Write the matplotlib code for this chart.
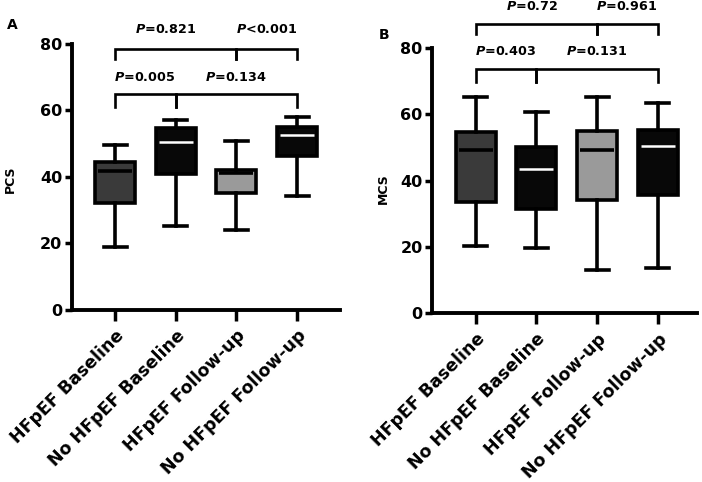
import numpy as np
import matplotlib
matplotlib.use("Agg")
import matplotlib.pyplot as plt

plt.rcParams['font.family'] = ['DejaVu Sans']
plt.rcParams['font.weight'] = 'bold'
plt.rcParams['mathtext.fontset'] = 'custom'
plt.rcParams['mathtext.it'] = 'DejaVu Sans:italic:bold'
plt.rcParams['mathtext.rm'] = 'DejaVu Sans:bold'

groups = ['HFpEF Baseline', 'No HFpEF Baseline', 'HFpEF Follow-up', 'No HFpEF Follow-up']
fills = ['#3a3a3a', '#080808', '#9a9a9a', '#080808']
median_cols = ['#000000', '#ffffff', '#000000', '#ffffff']

# PCS box stats (min, q1, median, q3, max)
pcs_min = [19.0, 25.1, 23.9, 34.3]
pcs_q1 = [32.3, 40.8, 35.3, 46.4]
pcs_med = [41.8, 50.6, 41.2, 52.6]
pcs_q3 = [44.4, 54.8, 42.1, 55.1]
pcs_max = [49.6, 57.1, 50.9, 58.0]

# MCS box stats
mcs_min = [20.4, 19.6, 13.1, 13.6]
mcs_q1 = [33.7, 31.4, 34.2, 35.7]
mcs_med = [49.3, 43.6, 49.3, 50.5]
mcs_q3 = [54.6, 50.3, 54.9, 55.4]
mcs_max = [65.4, 60.6, 65.4, 63.4]

# comparisons: (x1, x2, label, text x)
pcs_low = [(1, 2, '$P$=0.005', 1.49), (2, 4, '$P$=0.134', 2.99)]
pcs_high = [(1, 3, '$P$=0.821', 1.84), (3, 4, '$P$<0.001', 3.5)]
mcs_low = [(1, 2, '$P$=0.403', 1.49), (2, 4, '$P$=0.131', 3.0)]
mcs_high = [(1, 3, '$P$=0.72', 1.93), (3, 4, '$P$=0.961', 3.48)]

fig = plt.figure(figsize=(7.02, 4.82), dpi=100)
axA = fig.add_axes([0.1026, 0.357, 0.382, 0.552])
axB = fig.add_axes([0.616, 0.350, 0.3765, 0.550])


def draw_panel(ax, mins, q1s, meds, q3s, maxs, low, high, ylow, yhigh, ttxt_low, ttxt_high,
               ylabel, xright, lab_xy):
    stats = []
    for i in range(4):
        stats.append(dict(whislo=mins[i], q1=q1s[i], med=meds[i], q3=q3s[i], whishi=maxs[i]))
    bp = ax.bxp(stats, positions=[1, 2, 3, 4], widths=0.66, capwidths=0.38,
                showfliers=False, patch_artist=True,
                boxprops=dict(linewidth=2.6, edgecolor='black'),
                whiskerprops=dict(linewidth=2.6, color='black'),
                capprops=dict(linewidth=2.6, color='black'),
                medianprops=dict(linewidth=2.0))
    for i, b in enumerate(bp['boxes']):
        b.set_facecolor(fills[i])
    for i, m in enumerate(bp['medians']):
        m.set_color(median_cols[i])
        m.set_xdata([i + 1 - 0.28, i + 1 + 0.28])
        if median_cols[i] == '#ffffff':
            m.set_linewidth(1.8)
        else:
            m.set_linewidth(2.6)

    for (y0, d, br) in [(ylow, 3.9, low), (yhigh, 3.0, high)]:
        for x1, x2, lab, tx in br:
            ax.plot([x1, x1, x2, x2], [y0 - d, y0, y0, y0 - d], color='black', lw=1.9, clip_on=False,
                    solid_joinstyle='miter')
    for x1, x2, lab, tx in low:
        ax.text(tx, ttxt_low, lab, ha='center', va='center', fontsize=9.2, fontweight='bold')
    for x1, x2, lab, tx in high:
        ax.text(tx, ttxt_high, lab, ha='center', va='center', fontsize=9.2, fontweight='bold')

    ax.set_xlim(0.29, xright)
    ax.set_ylim(0, 80)
    ax.set_yticks([0, 20, 40, 60, 80])
    ax.set_xticks([1, 2, 3, 4])
    ax.set_xticklabels(groups, rotation=45, ha='right', rotation_mode='anchor',
                       fontsize=12.5, fontweight='bold')
    ax.tick_params(axis='y', width=2.5, length=5, labelsize=11.5, pad=2)
    ax.tick_params(axis='x', width=2.5, length=8, pad=4)
    for lbl in ax.get_yticklabels():
        lbl.set_fontweight('bold')
    ax.spines['top'].set_visible(False)
    ax.spines['right'].set_visible(False)
    ax.spines['left'].set_linewidth(2.8)
    ax.spines['bottom'].set_linewidth(2.8)
    ax.set_ylabel(ylabel, fontsize=9, fontweight='bold', va='center')
    ax.yaxis.set_label_coords(*lab_xy)


draw_panel(axA, pcs_min, pcs_q1, pcs_med, pcs_q3, pcs_max, pcs_low, pcs_high,
           64.9, 78.4, 70.0, 84.4, 'PCS', 4.71, (-0.231, 0.49))
draw_panel(axB, mcs_min, mcs_q1, mcs_med, mcs_q3, mcs_max, mcs_low, mcs_high,
           73.8, 87.4, 79.0, 92.6, 'MCS', 4.64, (-0.184, 0.47))

fig.text(12 / 702, 1 - 25 / 482, 'A', fontsize=10, fontweight='bold', ha='center', va='center')
fig.text(384 / 702, 1 - 35 / 482, 'B', fontsize=10, fontweight='bold', ha='center', va='center')

fig.savefig('out.png', dpi=100)
